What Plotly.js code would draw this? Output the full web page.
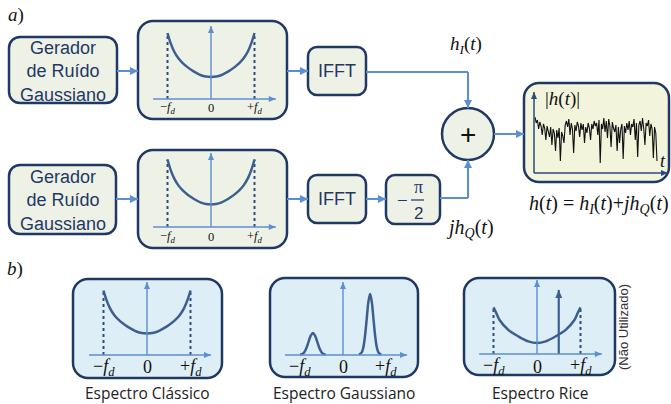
<!DOCTYPE html>
<html><head><meta charset="utf-8">
<script src="https://cdn.plot.ly/plotly-3.0.1.min.js"></script>
<style>html,body{margin:0;padding:0;background:#fff;}#chart{width:671px;height:404px;}</style>
</head><body><div id="chart"></div>
<script>
// ---------- data ----------
const classicF = [-1, -0.93, -0.85, -0.75, -0.65, -0.55, -0.45, -0.35, -0.23, -0.12, 0, 0.12, 0.23, 0.35, 0.45, 0.55, 0.65, 0.75, 0.85, 0.93, 1];
const classicS = [3.0, 2.55, 2.17, 1.85, 1.63, 1.46, 1.32, 1.2, 1.08, 1.02, 1.0, 1.02, 1.08, 1.2, 1.32, 1.46, 1.63, 1.85, 2.17, 2.55, 3.0];
const gaussSmallF = [-1.0, -0.95, -0.9, -0.85, -0.8, -0.75, -0.7, -0.65, -0.6, -0.55, -0.5, -0.45, -0.4];
const gaussSmallS = [0.02, 0.04, 0.13, 0.33, 0.62, 0.9, 1.02, 0.9, 0.62, 0.33, 0.13, 0.04, 0.02];
const gaussLargeF = [0.37, 0.43, 0.47, 0.51, 0.55, 0.59, 0.63, 0.67, 0.71, 0.75, 0.79, 0.83, 0.89];
const gaussLargeS = [0.02, 0.1, 0.33, 0.85, 1.65, 2.46, 2.84, 2.46, 1.65, 0.85, 0.33, 0.1, 0.02];
const riceF = [-1, -0.93, -0.86, -0.66, -0.43, -0.2, 0, 0.2, 0.43, 0.66, 0.86, 0.93, 1];
const riceS = [2.17, 1.88, 1.58, 1.12, 0.82, 0.59, 0.51, 0.59, 0.82, 1.12, 1.58, 1.88, 2.17];
const riceLosF = [0.5];
const riceLosS = [2.98];
const fdTicks = [-1, 0, 1];
const fdTickLabels = ['−<i>f</i><sub><i>d</i></sub>', '0', '+<i>f</i><sub><i>d</i></sub>'];
const noiseAmp = [56,50,53,44,51,47,38,49,45,33,47,42,36,46,28,44,
  40,22,43,35,45,12,41,37,30,48,
  52,46,54,38,50,44,20,48,42,51,
  47,36,50,43,49,30,46,40,50,45,33,49,44,52,47,
  50,38,53,10,49,44,55,41,52,35,54,47,26,51,45,
  41,48,22,46,30,44,49,14,47,40,50,43,52,38,49,
  46,54,33,50,16,48,52,42,55,45,28,50,47,53,37,49,44,15,46,40,12];
const spectrumTitles = ['Espectro Clássico', 'Espectro Gaussiano', 'Espectro Rice'];
const boxText = 'Gerador<br>de Ruído<br>Gaussiano';

// ---------- styling / geometry ----------
const W = 671, H = 404;
const NAVY = '#1f3864', FLOW = '#5b8fd4', CURVE = '#3c5f91', AXC = '#5b8fd4';
const FILL_G = '#eef2e6', FILL_Y = '#f2f5dc', FILL_B = '#deeef6';
const SANS = '"Liberation Sans", Arial, sans-serif';
const SERIF = '"Liberation Serif", "Times New Roman", serif';
const TITLEF = '"Open Sans", "Noto Sans", sans-serif';

function rr(x0, y0, x1, y1, r) {
  const k = 0.448 * r;
  return `M${x0 + r},${y0} L${x1 - r},${y0} C${x1 - k},${y0} ${x1},${y0 + k} ${x1},${y0 + r} ` +
    `L${x1},${y1 - r} C${x1},${y1 - k} ${x1 - k},${y1} ${x1 - r},${y1} ` +
    `L${x0 + r},${y1} C${x0 + k},${y1} ${x0},${y1 - k} ${x0},${y1 - r} ` +
    `L${x0},${y0 + r} C${x0},${y0 + k} ${x0 + k},${y0} ${x0 + r},${y0} Z`;
}

const shapes = [], annotations = [], traces = [];
const layout = {
  width: W, height: H, margin: {l: 0, r: 0, t: 0, b: 0},
  paper_bgcolor: '#ffffff', plot_bgcolor: 'rgba(0,0,0,0)', showlegend: false,
  xaxis: {range: [0, W], domain: [0, 1], visible: false, fixedrange: true},
  yaxis: {range: [H, 0], domain: [0, 1], visible: false, fixedrange: true},
  shapes: shapes, annotations: annotations
};
traces.push({x: [0], y: [0], mode: 'markers', marker: {opacity: 0}, hoverinfo: 'skip', xaxis: 'x', yaxis: 'y'});

function box(x0, y0, x1, y1, r, fill) {
  shapes.push({type: 'path', xref: 'x', yref: 'y', path: rr(x0, y0, x1, y1, r), fillcolor: fill, line: {color: NAVY, width: 2.5}, layer: 'below'});
}
function txt(x, y, text, size, family, color, extra) {
  annotations.push(Object.assign({xref: 'x', yref: 'y', x: x, y: y, text: text, showarrow: false,
    xanchor: 'center', yanchor: 'middle', font: {size: size, family: family, color: color}}, extra || {}));
}
function head(xref, yref, x, y, dir, color, len, hw) {
  let p;
  if (dir === 'r') p = `M0,0 L${-len},${hw} L${-len},${-hw} Z`;
  else if (dir === 'u') p = `M0,0 L${-hw},${-len} L${hw},${-len} Z`;
  else p = `M0,0 L${-hw},${len} L${hw},${len} Z`;
  shapes.push({type: 'path', xref: xref, yref: yref, xsizemode: 'pixel', ysizemode: 'pixel', xanchor: x, yanchor: y,
    path: p, fillcolor: color, line: {width: 0}, layer: 'above'});
}
function arrow(xref, yref, x0, y0, x1, y1, dir, color, width, len, hw) {
  shapes.push({type: 'line', xref: xref, yref: yref, x0: x0, y0: y0, x1: x1, y1: y1, line: {color: color, width: width}, layer: 'above'});
  head(xref, yref, x1, y1, dir, color, len, hw);
}
function seg(path, color, width) {
  shapes.push({type: 'path', xref: 'x', yref: 'y', path: path, line: {color: color, width: width}, layer: 'above'});
}

// ---------- part a) ----------
txt(16, 15, '<i>a</i>)', 19, SERIF, '#111');
txt(15, 269, '<i>b</i>)', 19, SERIF, '#111');

box(9, 37, 117, 103, 11, FILL_G);
txt(63, 71, boxText, 18, SANS, NAVY);
box(9, 165, 116, 234, 11, FILL_G);
txt(63, 200, boxText, 18, SANS, NAVY);

box(138, 21, 287, 119, 15, FILL_G);
box(138, 150, 287, 248, 15, FILL_G);

box(308, 47, 366, 95, 9, FILL_G);
txt(337, 71, 'IFFT', 18, SANS, NAVY);
box(308, 175, 366, 223, 9, FILL_G);
txt(337, 199, 'IFFT', 18, SANS, NAVY);

box(386, 175, 440, 224, 9, FILL_G);
txt(402, 200, '−', 19, SERIF, NAVY);
txt(418, 187, 'π', 18, SERIF, NAVY);
txt(418, 213, '2', 17, SANS, NAVY);
seg('M411,200 L424,200', NAVY, 1.2);

shapes.push({type: 'circle', xref: 'x', yref: 'y', x0: 442, y0: 108, x1: 494, y1: 160, fillcolor: FILL_G, line: {color: NAVY, width: 2.5}, layer: 'below'});
txt(468, 134, '+', 28, SANS, '#111');

box(524, 83, 669, 182, 15, FILL_Y);

// flow arrows
arrow('x', 'y', 117, 71, 138, 71, 'r', FLOW, 2, 8, 4);
arrow('x', 'y', 287, 71, 308, 71, 'r', FLOW, 2, 8, 4);
seg('M366,72 L468,72', FLOW, 2);
arrow('x', 'y', 468, 72, 468, 108, 'd', FLOW, 2, 8, 4);
arrow('x', 'y', 116, 199, 138, 199, 'r', FLOW, 2, 8, 4);
arrow('x', 'y', 287, 199, 308, 199, 'r', FLOW, 2, 8, 4);
arrow('x', 'y', 366, 199, 386, 199, 'r', FLOW, 2, 8, 4);
seg('M440,198 L468,198', FLOW, 2);
arrow('x', 'y', 468, 198, 468, 160, 'u', FLOW, 2, 8, 4);
arrow('x', 'y', 494, 134, 524, 134, 'r', FLOW, 2, 8, 4);

txt(466, 45, '<i>h</i><sub><i>I</i></sub>(<i>t</i>)', 19, SERIF, '#111');
txt(470, 228, '<i>jh</i><sub><i>Q</i></sub>(<i>t</i>)', 20, SERIF, '#111');
txt(527, 204, '<i>h</i>(<i>t</i>) = <i>h</i><sub><i>I</i></sub>(<i>t</i>)+<i>jh</i><sub><i>Q</i></sub>(<i>t</i>)', 20, SERIF, '#111', {xanchor: 'left'});

// ---------- mini spectrum subplots ----------
const panels = [
  {id: 2, box: [138, 21, 287, 119], x0: 211, y0: 99, fd: 43.5, unit: 22, ax: [-1.33, 1.49], ay: 3.32, lblDy: -0.42, lblSize: 12.5, kind: 'classic'},
  {id: 3, box: [138, 150, 287, 248], x0: 211, y0: 227, fd: 43.5, unit: 22.5, ax: [-1.33, 1.49], ay: 3.29, lblDy: -0.44, lblSize: 12.5, kind: 'classic'},
  {id: 4, box: [73, 279, 222, 378], x0: 147, y0: 355, fd: 43.5, unit: 21.5, ax: [-1.33, 1.47], ay: 3.4, lblDy: -0.56, lblSize: 18, kind: 'classic', title: 0},
  {id: 5, box: [270, 278, 418, 377], x0: 343, y0: 355, fd: 43, unit: 21.5, ax: [-1.35, 1.49], ay: 3.4, lblDy: -0.56, lblSize: 18, kind: 'gauss', title: 1},
  {id: 6, box: [464, 278, 615, 375], x0: 537, y0: 354, fd: 43.5, unit: 21.5, ax: [-1.33, 1.49], ay: 3.44, lblDy: -0.6, lblSize: 18, kind: 'rice', title: 2}
];

panels.forEach(p => {
  const [L, T, R, B] = p.box;
  if (p.id >= 4) box(L, T, R, B, 15, FILL_B);
  const xa = 'xaxis' + p.id, ya = 'yaxis' + p.id, xr = 'x' + p.id, yr = 'y' + p.id;
  layout[xa] = {domain: [L / W, R / W], range: [(L - p.x0) / p.fd, (R - p.x0) / p.fd], visible: false, fixedrange: true, anchor: yr};
  layout[ya] = {domain: [1 - B / H, 1 - T / H], range: [(p.y0 - B) / p.unit, (p.y0 - T) / p.unit], visible: false, fixedrange: true, anchor: xr};
  arrow(xr, yr, p.ax[0], 0, p.ax[1], 0, 'r', AXC, 1.4, 7, 3);
  arrow(xr, yr, 0, 0, 0, p.ay, 'u', AXC, 1.4, 7, 3);
  fdTicks.forEach((f, i) => {
    annotations.push({xref: xr, yref: yr, x: f, y: p.lblDy, text: fdTickLabels[i], showarrow: false,
      xanchor: 'center', yanchor: 'middle', font: {size: p.lblSize, family: SERIF, color: '#111'}});
  });
  const line = {color: CURVE, width: 2.5, shape: 'spline', smoothing: 1};
  if (p.kind === 'classic' || p.kind === 'rice') {
    const F = p.kind === 'classic' ? classicF : riceF;
    const S = p.kind === 'classic' ? classicS : riceS;
    [0, F.length - 1].forEach(i => {
      traces.push({x: [F[i], F[i]], y: [0, S[i]], mode: 'lines', line: {color: '#2e4c80', width: 2, dash: 'dot'}, xaxis: xr, yaxis: yr, hoverinfo: 'skip'});
    });
    traces.push({x: F, y: S, mode: 'lines', line: line, xaxis: xr, yaxis: yr, hoverinfo: 'skip'});
  }
  if (p.kind === 'gauss') {
    traces.push({x: gaussSmallF, y: gaussSmallS, mode: 'lines', line: line, xaxis: xr, yaxis: yr, hoverinfo: 'skip'});
    traces.push({x: gaussLargeF, y: gaussLargeS, mode: 'lines', line: line, xaxis: xr, yaxis: yr, hoverinfo: 'skip'});
  }
  if (p.kind === 'rice') {
    traces.push({x: [riceLosF[0], riceLosF[0]], y: [0, riceLosS[0]], mode: 'lines', line: {color: CURVE, width: 2.2}, xaxis: xr, yaxis: yr, hoverinfo: 'skip'});
    head(xr, yr, riceLosF[0], riceLosS[0], 'u', CURVE, 8, 3.5);
  }
  if (p.title !== undefined) {
    txt((L + R) / 2, 393, spectrumTitles[p.title], 15.5, TITLEF, '#222');
  }
});
txt(623, 327, '(Não Utilizado)', 13, SANS, '#333', {textangle: -90});

// ---------- output |h(t)| subplot ----------
(function () {
  const L = 524, T = 83, R = 669, B = 182, ox = 535, ex = 657, oy = 173;
  const s = (ex - ox) / (noiseAmp.length - 1);
  const idx = noiseAmp.map((_, i) => i);
  layout.xaxis7 = {domain: [L / W, R / W], range: [(L - ox) / s, (R - ox) / s], visible: false, fixedrange: true, anchor: 'y7'};
  layout.yaxis7 = {domain: [1 - B / H, 1 - T / H], range: [oy - B, oy - T], visible: false, fixedrange: true, anchor: 'x7'};
  traces.push({x: idx, y: noiseAmp, mode: 'lines', line: {color: '#111', width: 1.1}, xaxis: 'x7', yaxis: 'y7', hoverinfo: 'skip'});
  arrow('x', 'y', 534, 173, 534, 92, 'u', '#2a4a80', 1.5, 7, 3);
  arrow('x', 'y', 534, 173, 668, 173, 'r', '#2a4a80', 1.5, 7, 3);
  txt(562, 99, '|<i>h</i>(<i>t</i>)|', 19, SERIF, '#111');
  txt(663, 161, '<i>t</i>', 18, SERIF, '#111');
})();

Plotly.newPlot('chart', traces, layout, {displayModeBar: false, staticPlot: true});
</script></body></html>
